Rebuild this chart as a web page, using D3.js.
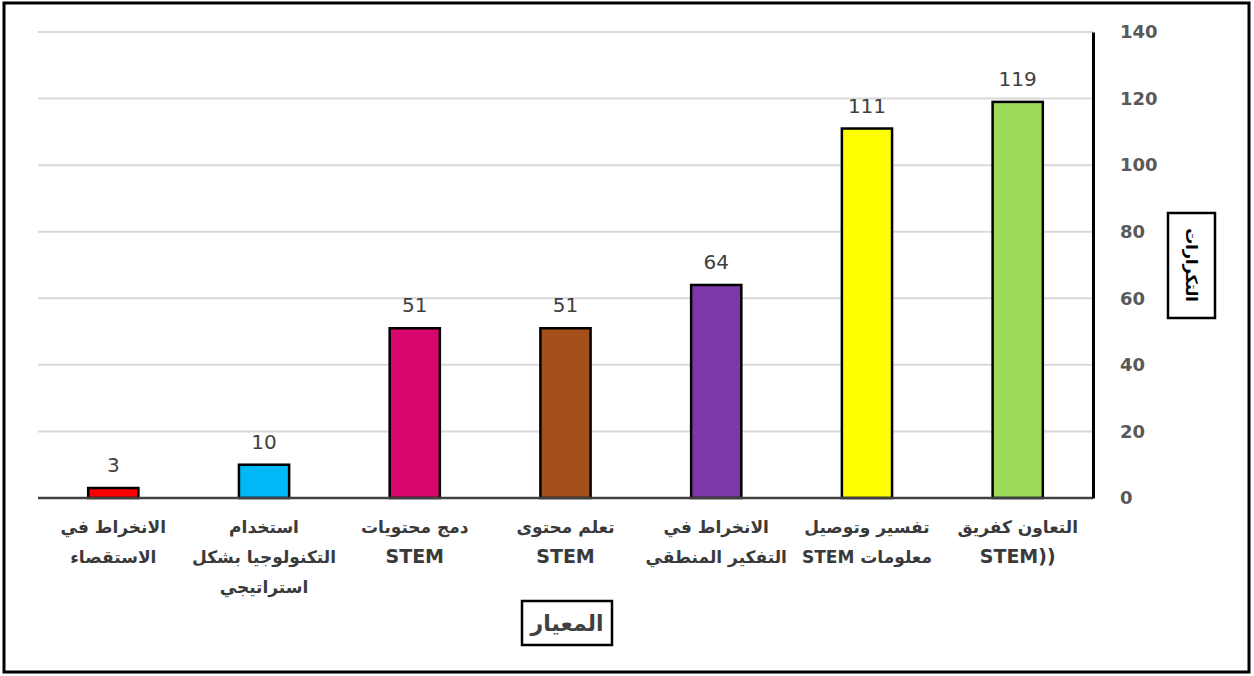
<!DOCTYPE html>
<html><head><meta charset="utf-8">
<script src="https://cdn.jsdelivr.net/npm/d3@7"></script>
<style>body{margin:0;background:#fff}</style></head>
<body><svg id="c" width="1254" height="676"></svg>
<script>
const categories = ["الانخراط في الاستقصاء","استخدام التكنولوجيا بشكل استراتيجي","دمج محتويات STEM","تعلم محتوى STEM","الانخراط في التفكير المنطقي","تفسير وتوصيل معلومات STEM","التعاون كفريق (STEM)"];
const labelLines = [["الانخراط في","الاستقصاء"],["استخدام","التكنولوجيا بشكل","استراتيجي"],["دمج محتويات","STEM"],["تعلم محتوى","STEM"],["الانخراط في","التفكير المنطقي"],["تفسير وتوصيل","معلومات STEM"],["التعاون كفريق","STEM))"]];
const values = [3,10,51,51,64,111,119];
const colors = ["#FF0000","#00B8F5","#D8076E","#A5501A","#7B38A8","#FFFF00","#9CDA5A"];
const yTicks = [0,20,40,60,80,100,120,140];
const yTitle = "التكرارات";
const xTitle = "المعيار";

const svg = d3.select("#c");
const font = "'DejaVu Sans', sans-serif";
svg.append("rect").attr("x",4).attr("y",3).attr("width",1245).attr("height",669)
  .attr("fill","#fff").attr("stroke","#000").attr("stroke-width",3);

const x = d3.scaleBand().domain(categories).range([38,1093]).paddingInner(0.667).paddingOuter(0.333);
const y = d3.scaleLinear().domain([0,140]).range([498,32]);

// gridlines
svg.append("g").selectAll("line").data(yTicks.slice(1)).join("line")
  .attr("x1",38).attr("x2",1093).attr("y1",d=>y(d)).attr("y2",d=>y(d))
  .attr("stroke","#d9d9d9").attr("stroke-width",2);

// bars
svg.append("g").selectAll("rect").data(values).join("rect")
  .attr("x",(d,i)=>x(categories[i])).attr("width",x.bandwidth())
  .attr("y",d=>y(d)).attr("height",d=>y(0)-y(d))
  .attr("fill",(d,i)=>colors[i]).attr("stroke","#000").attr("stroke-width",2.5);

// baseline
svg.append("line").attr("x1",38).attr("x2",1093).attr("y1",y(0)).attr("y2",y(0))
  .attr("stroke","#404040").attr("stroke-width",2.5);

// right axis
const ax = d3.axisRight(y).tickValues(yTicks).tickSize(0).tickPadding(27);
const g = svg.append("g").attr("transform","translate(1093,0)").call(ax);
g.select(".domain").attr("stroke","#000").attr("stroke-width",3);
g.selectAll("text").attr("font-family",font).attr("font-size",18).attr("font-weight","bold").attr("fill","#595959");

// data labels
svg.append("g").selectAll("text").data(values).join("text")
  .attr("x",(d,i)=>x(categories[i])+x.bandwidth()/2).attr("y",d=>y(d)-16)
  .attr("text-anchor","middle").attr("font-family",font).attr("font-size",20).attr("fill","#404040")
  .text(d=>d);

// x labels
const arabic = /[\u0600-\u06FF]/;
labelLines.forEach((lines,i)=>{
  const cx = x(categories[i])+x.bandwidth()/2;
  lines.forEach((t,j)=>{
    const isAr = arabic.test(t);
    svg.append("text").attr("x",cx).attr("y",533+j*30)
      .attr("text-anchor","middle").attr("direction",isAr?"rtl":"ltr")
      .attr("font-family",font).attr("font-size",isAr?17:19).attr("font-weight","bold").attr("fill","#3a3a3a")
      .text(t);
  });
});

// x title
svg.append("rect").attr("x",522).attr("y",601).attr("width",90).attr("height",44)
  .attr("fill","#fff").attr("stroke","#000").attr("stroke-width",2.5);
svg.append("text").attr("x",567).attr("y",631).attr("text-anchor","middle").attr("direction","rtl")
  .attr("font-family",font).attr("font-size",22).attr("font-weight","bold").attr("fill","#404040").text(xTitle);

// y title
svg.append("rect").attr("x",1168).attr("y",213).attr("width",47).attr("height",105)
  .attr("fill","#fff").attr("stroke","#000").attr("stroke-width",2.5);
svg.append("text").attr("transform","translate(1191,265) rotate(90)").attr("text-anchor","middle")
  .attr("dominant-baseline","central").attr("direction","rtl")
  .attr("font-family",font).attr("font-size",16).attr("font-weight","bold").attr("fill","#000").text(yTitle);
</script></body></html>
